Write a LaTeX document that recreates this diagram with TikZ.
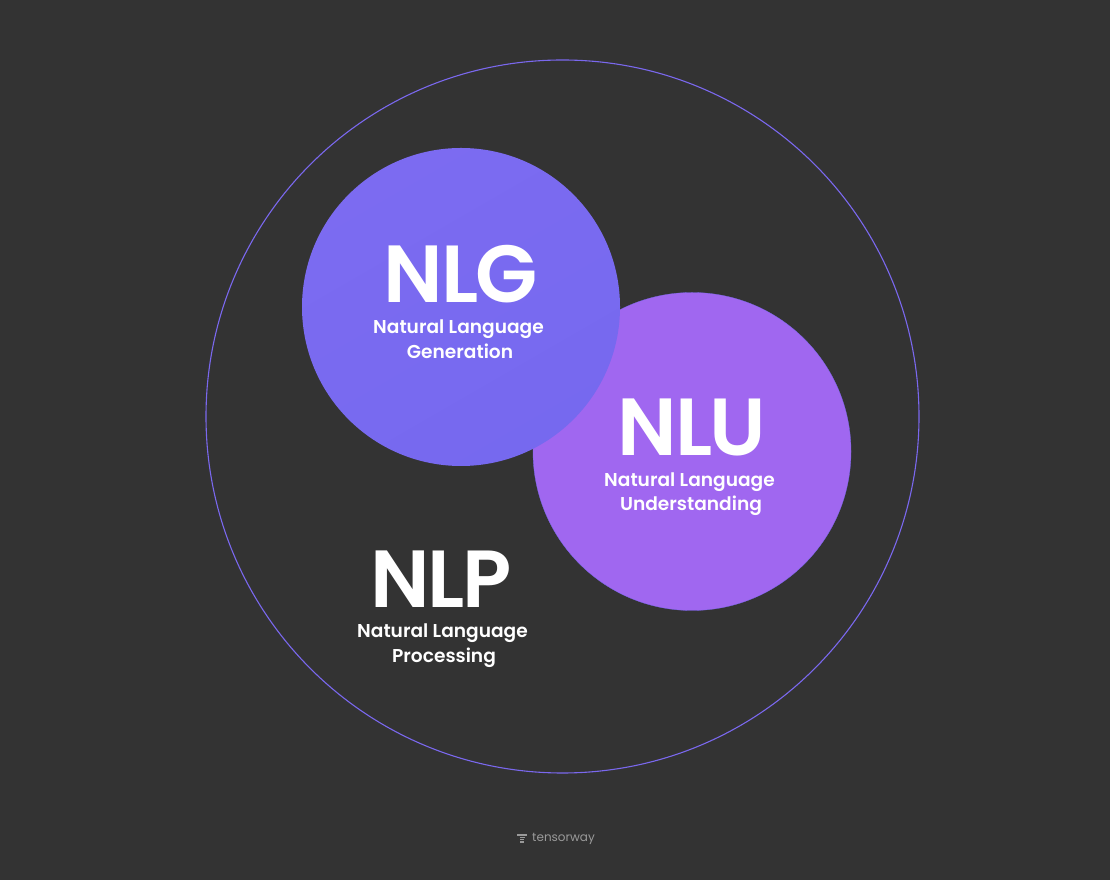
\documentclass[tikz,border=0pt]{standalone}
\usepackage{xcolor}
\usepackage{fontspec}
\setmainfont{Poppins}
\newfontfamily\bigfont[LetterSpace=-3]{Poppins SemiBold}
\newfontfamily\subfont{Poppins SemiBold}
\usepackage{tikz}
\usetikzlibrary{positioning}
\definecolor{bgdark}{HTML}{333333}
\definecolor{ringline}{HTML}{7A68EE}
\definecolor{genfill}{HTML}{7669EF}
\definecolor{genfilltop}{HTML}{7C6BF1}
\definecolor{undfill}{HTML}{A067F0}
\definecolor{logogray}{HTML}{9A9A9A}
\begin{document}
\begin{tikzpicture}[x=1pt,y=1pt,
  blob/.style={circle, inner sep=0pt, minimum size=318pt},
  bigname/.style={text=white, inner sep=0pt, font=\fontsize{81}{81}\bigfont},
  subname/.style={text=white, inner sep=0pt, align=center, font=\fontsize{18.6}{24.6}\subfont}
]
\useasboundingbox[fill=bgdark] (0,0) rectangle (1110,880);
\node[circle, draw=ringline, line width=1.1pt, inner sep=0pt, minimum size=713pt] (nlpring) at (562.5,463.5) {};
\node[blob, fill=undfill, draw=ringline, line width=0.3pt] (nlucircle) at (692,428.5) {};
\node[blob, left color=genfilltop, right color=genfill, shading angle=30] (nlgcircle) at (461,573) {};
\node[bigname] (nlgname) at (461,606) {NLG};
\node[subname, below=16.5pt of nlgname, xshift=-1pt] (nlgtext) {Natural Language\hspace*{3pt}\\Generation};
\node[bigname] (nluname) at (692,453) {NLU};
\node[subname, below=16.5pt of nluname, xshift=-1pt] (nlutext) {Natural Language\hspace*{3pt}\\Understanding};
\node[bigname] (nlpname) at (441,301) {NLP};
\node[subname, below=16.5pt of nlpname, xshift=3pt] (nlptext) {Natural Language\hspace*{3pt}\\Processing};
\node[text=logogray, inner sep=0pt, font=\fontsize{12}{12}\selectfont] (logotext) at (563.5,41.5) {tensorway};
% logo mark
\fill[logogray] (517,46) rectangle (527,44.4);
\fill[logogray] (519.5,43.2) rectangle (524.5,41.9);
\fill[logogray] (520,40.8) rectangle (524,39.6);
\fill[logogray] (520,38.6) rectangle (524,37.4);
\end{tikzpicture}
\end{document}
